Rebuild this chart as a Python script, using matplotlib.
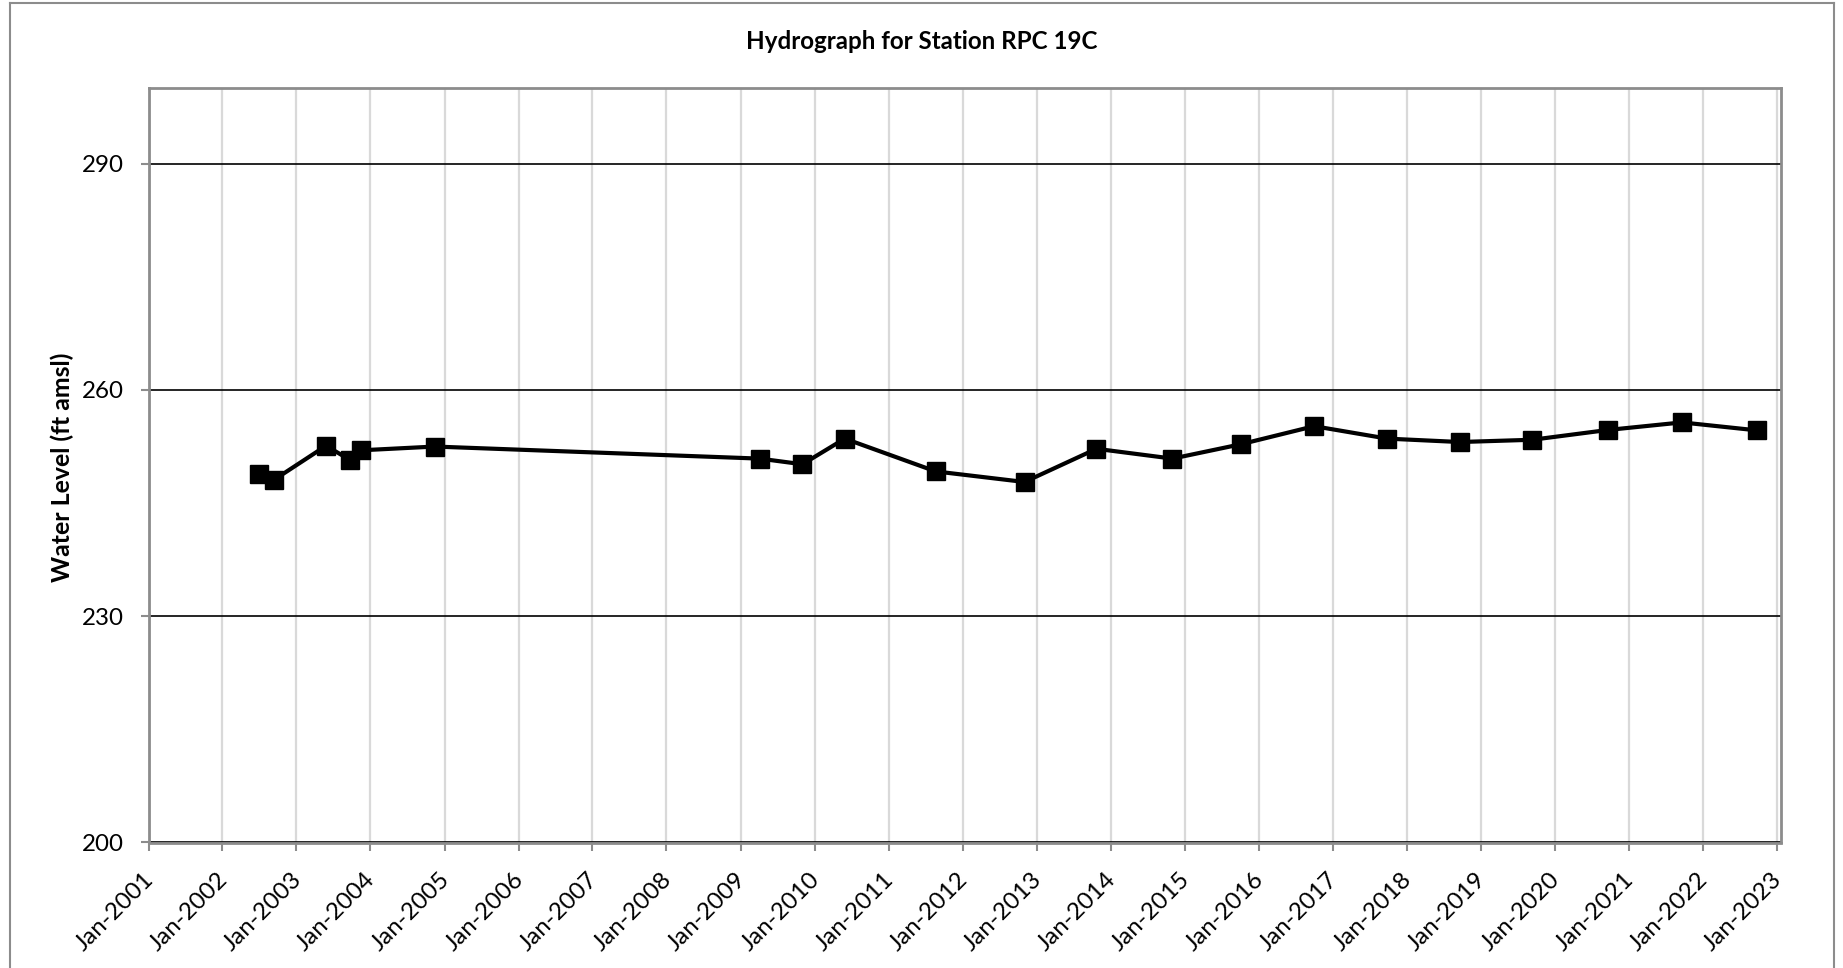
import matplotlib
matplotlib.use("Agg")
import matplotlib.pyplot as plt
import matplotlib.dates as mdates
from matplotlib.lines import Line2D
from matplotlib.transforms import ScaledTranslation
import pandas as pd

# ---- data ----
sample_dates = [
    "2002-07-01", "2002-09-13", "2003-05-27", "2003-09-24", "2003-11-14",
    "2004-11-14", "2009-04-05", "2009-11-02", "2010-05-30", "2011-08-22",
    "2012-11-02", "2013-10-23", "2014-11-02", "2015-10-05", "2016-10-01",
    "2017-09-27", "2018-09-20", "2019-09-13", "2020-09-20", "2021-09-20",
    "2022-09-24",
]
water_levels = [
    248.9, 248.1, 252.6, 250.7, 252.0,
    252.5, 250.9, 250.15, 253.55, 249.2,
    247.8, 252.2, 250.9, 252.8, 255.2,
    253.55, 253.1, 253.4, 254.7, 255.7,
    254.65,
]
y_ticks = [200, 230, 260, 290]
title_text = "Hydrograph for Station RPC 19C"
y_label_text = "Water Level (ft amsl)"

FONT = "Lato"
W, H = 1843, 968
fig = plt.figure(figsize=(W / 100, H / 100), dpi=100)
fig.patch.set_facecolor("white")
renderer = fig.canvas.get_renderer()


def fit_size(text, target_px, weight="normal"):
    t = fig.text(0, 0, text, fontsize=20, family=FONT, fontweight=weight)
    w = t.get_window_extent(renderer).width
    t.remove()
    return 20 * target_px / w


tick_fs = fit_size("290", 42)
title_fs = fit_size(title_text, 352, "bold")
ylab_fs = fit_size(y_label_text, 230, "bold")

left, right, top, bottom = 148.5, 1781.0, 88.3, 842.5
ax = fig.add_axes([left / W, 1 - bottom / H, (right - left) / W, (bottom - top) / H])

dates = pd.to_datetime(sample_dates)
ax.plot(dates, water_levels, color="black", lw=3.0, marker="s", markersize=13,
        markerfacecolor="black", markeredgecolor="black", zorder=5)

ax.set_ylim(200, 300)
ax.set_yticks(y_ticks)
ax.set_xlim(pd.Timestamp("2001-01-01"), pd.Timestamp("2023-01-22"))
ax.xaxis.set_major_locator(mdates.YearLocator(1, month=1, day=1))
ax.xaxis.set_major_formatter(mdates.DateFormatter("%b-%Y"))

# grid
ax.grid(axis="x", color="#d9d9d9", lw=1.6, zorder=0)
ax.grid(axis="y", color="black", lw=1.2, zorder=1)
ax.set_axisbelow(True)

for s in ax.spines.values():
    s.set_color("#8c8c8c")
    s.set_linewidth(2.0)

ax.tick_params(axis="both", colors="#8c8c8c", direction="out", width=1.5)
ax.tick_params(axis="x", length=6, pad=13, labelcolor="black", labelsize=tick_fs)
ax.tick_params(axis="y", length=5.5, pad=12, labelcolor="black", labelsize=tick_fs)

for lab in ax.get_yticklabels():
    lab.set_fontfamily(FONT)
for lab in ax.get_xticklabels():
    lab.set_fontfamily(FONT)
    lab.set_rotation(45)
    lab.set_ha("right")
    lab.set_va("top")
    lab.set_rotation_mode("anchor")
    lab.set_transform(lab.get_transform() + ScaledTranslation(-6 / 100, 0, fig.dpi_scale_trans))

fig.text(0.5, 1 - 49.3 / H, title_text, ha="center", va="baseline",
         fontsize=title_fs, fontweight="bold", family=FONT)
fig.text(62 / W, 1 - 467 / H, y_label_text, ha="center", va="center", rotation=90,
         fontsize=ylab_fs, fontweight="bold", family=FONT)

# outer chart border (left, top, right)
bc = "#8c8c8c"
fig.add_artist(Line2D([10 / W, 10 / W], [0, 1 - 3 / H], color=bc, lw=1.5, transform=fig.transFigure))
fig.add_artist(Line2D([10 / W, 1834 / W], [1 - 3 / H, 1 - 3 / H], color=bc, lw=1.5, transform=fig.transFigure))
fig.add_artist(Line2D([1834 / W, 1834 / W], [0, 1 - 3 / H], color=bc, lw=1.5, transform=fig.transFigure))

fig.savefig("out.png", dpi=100)
